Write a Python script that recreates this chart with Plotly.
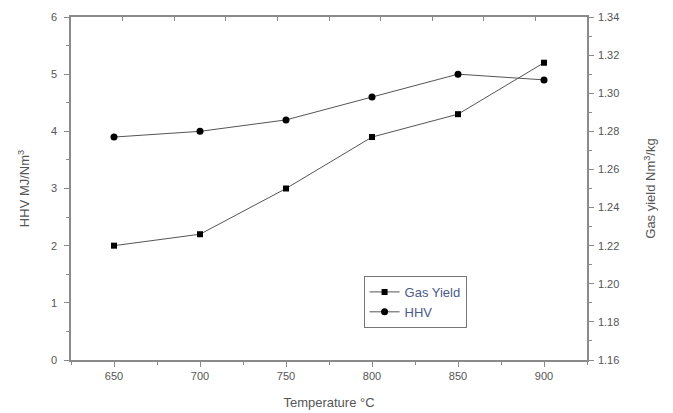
import plotly.graph_objects as go

temperature = [650, 700, 750, 800, 850, 900]
gas_yield = [1.220, 1.226, 1.250, 1.277, 1.289, 1.316]
hhv = [3.9, 4.0, 4.2, 4.6, 5.0, 4.9]

axis_col = "#8a8a8a"
txt_col = "#555555"
font = dict(family="Liberation Sans, Arial", size=11, color=txt_col)

fig = go.Figure()
fig.add_trace(go.Scatter(
    x=temperature, y=gas_yield, name="Gas Yield", yaxis="y2",
    mode="lines+markers",
    line=dict(color="#555555", width=1),
    marker=dict(symbol="square", size=6, color="black"),
))
fig.add_trace(go.Scatter(
    x=temperature, y=hhv, name="HHV", yaxis="y",
    mode="lines+markers",
    line=dict(color="#555555", width=1),
    marker=dict(symbol="circle", size=7, color="black"),
))

fig.update_layout(
    width=665, height=405,
    margin=dict(l=63, r=86, t=9, b=53),
    paper_bgcolor="white", plot_bgcolor="white",
    font=font,
    showlegend=True,
    legend=dict(
        x=0.567, y=0.245, xanchor="left", yanchor="top",
        bordercolor="#777777", borderwidth=1, bgcolor="white",
        font=dict(family="Liberation Sans, Arial", size=13, color="#4a5a8a"),
        tracegroupgap=0, itemwidth=30,
        traceorder="normal",
    ),
    xaxis=dict(
        range=[625, 925], tickvals=[650, 700, 750, 800, 850, 900],
        showgrid=False, zeroline=False, automargin=False,
        showline=True, linecolor=axis_col, linewidth=1.5,
        ticks="outside", ticklen=5, tickcolor=axis_col,
        minor=dict(dtick=25, tick0=625, ticks="outside", ticklen=3, tickcolor=axis_col),
        title=dict(text="Temperature °C", font=dict(size=13, color=txt_col), standoff=17),
        tickfont=dict(size=11, color=txt_col),
    ),
    xaxis2=dict(
        overlaying="x", side="top", range=[625, 925], automargin=False,
        tick0=655, dtick=30, showticklabels=False,
        showgrid=False, zeroline=False,
        showline=True, linecolor=axis_col, linewidth=1.5,
        ticks="inside", ticklen=4, tickcolor=axis_col,
    ),
    yaxis=dict(
        range=[0, 6], dtick=1, automargin=False,
        showgrid=False, zeroline=False,
        showline=True, linecolor=axis_col, linewidth=1.5,
        ticks="outside", ticklen=5, tickcolor=axis_col,
        ticklabelstandoff=5,
        minor=dict(dtick=0.5, ticks="outside", ticklen=3, tickcolor=axis_col),
        title=dict(text="HHV MJ/Nm<sup>3</sup>", font=dict(size=13, color=txt_col), standoff=18),
        tickfont=dict(size=11, color=txt_col),
    ),
    yaxis2=dict(
        range=[1.16, 1.34], dtick=0.02, tickformat=".2f", automargin=False,
        overlaying="y", side="right",
        showgrid=False, zeroline=False,
        showline=True, linecolor=axis_col, linewidth=1.5,
        ticks="outside", ticklen=5, tickcolor=axis_col,
        ticklabelstandoff=2,
        minor=dict(dtick=0.01, ticks="outside", ticklen=3, tickcolor=axis_col),
        title=dict(text="Gas yield Nm<sup>3</sup>/kg", font=dict(size=13, color=txt_col), standoff=28),
        tickfont=dict(size=11, color=txt_col),
    ),
)
# dummy trace to activate top axis
fig.add_trace(go.Scatter(x=[None], y=[None], xaxis="x2", showlegend=False, hoverinfo="skip"))

fig.write_html("out.html")
